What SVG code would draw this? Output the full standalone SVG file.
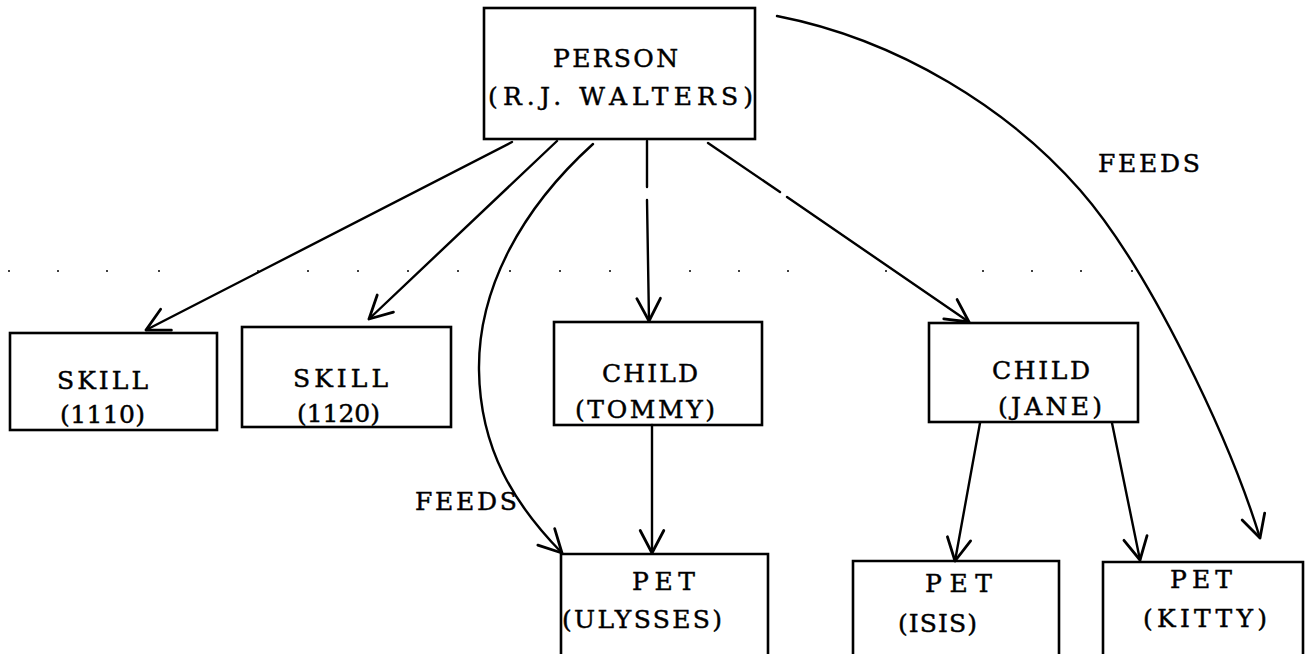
<svg xmlns="http://www.w3.org/2000/svg" width="1316" height="654" viewBox="0 0 1316 654">
  <defs>
    <style>
      .box { fill: none; stroke: #000; stroke-width: 2.6; }
      .lbl { font-family: "DejaVu Serif", "Liberation Serif", serif; font-size: 25px; fill: #000; stroke: #000; stroke-width: 0.45; }
      .edge { fill: none; stroke: #000; stroke-width: 2.4; stroke-linecap: round; }
      .arrow { marker-end: url(#vee); }
      .dot { fill: #000; }
    </style>
    <marker id="vee" markerUnits="userSpaceOnUse" markerWidth="30" markerHeight="30" viewBox="-24 -14 26 28" refX="0" refY="0" orient="auto">
      <path d="M-21,-11 L0,0 L-21,11" fill="none" stroke="#000" stroke-width="2.6" stroke-linecap="round" stroke-linejoin="round"/>
    </marker>
  </defs>
  <rect width="1316" height="654" fill="#fff"/>

  <!-- faint dotted guide row -->
  <g id="guide-dots">
    <circle class="dot" cx="9" cy="271" r="1"/>
    <circle class="dot" cx="58" cy="271" r="1"/>
    <circle class="dot" cx="107" cy="271" r="1"/>
    <circle class="dot" cx="159" cy="271" r="1"/>
    <circle class="dot" cx="258" cy="271" r="1"/>
    <circle class="dot" cx="308" cy="271" r="1"/>
    <circle class="dot" cx="358" cy="271" r="1"/>
    <circle class="dot" cx="408" cy="271" r="1"/>
    <circle class="dot" cx="458" cy="271" r="1"/>
    <circle class="dot" cx="510" cy="271" r="1"/>
    <circle class="dot" cx="560" cy="271" r="1"/>
    <circle class="dot" cx="610" cy="271" r="1"/>
    <circle class="dot" cx="690" cy="271" r="1"/>
    <circle class="dot" cx="739" cy="271" r="1"/>
    <circle class="dot" cx="788" cy="271" r="1"/>
    <circle class="dot" cx="886" cy="271" r="1"/>
    <circle class="dot" cx="983" cy="271" r="1"/>
    <circle class="dot" cx="1032" cy="271" r="1"/>
    <circle class="dot" cx="1081" cy="271" r="1"/>
    <circle class="dot" cx="1132" cy="271" r="1"/>
  </g>

  <!-- nodes -->
  <g id="person">
    <rect class="box" x="484" y="8" width="271" height="131"/>
    <text class="lbl" x="553" y="67" textLength="125" lengthAdjust="spacing">PERSON</text>
    <text class="lbl" x="488" y="105" textLength="265" lengthAdjust="spacing">(R.J. WALTERS)</text>
  </g>
  <g id="skill-1110">
    <rect class="box" x="10" y="333" width="207" height="97"/>
    <text class="lbl" x="57" y="389" textLength="91" lengthAdjust="spacing">SKILL</text>
    <text class="lbl" x="60" y="423" textLength="85" lengthAdjust="spacing">(1110)</text>
  </g>
  <g id="skill-1120">
    <rect class="box" x="242" y="327" width="209" height="100"/>
    <text class="lbl" x="293" y="387" textLength="95" lengthAdjust="spacing">SKILL</text>
    <text class="lbl" x="297" y="422" textLength="83" lengthAdjust="spacing">(1120)</text>
  </g>
  <g id="child-tommy">
    <rect class="box" x="554" y="322" width="208" height="103"/>
    <text class="lbl" x="602" y="382" textLength="96" lengthAdjust="spacing">CHILD</text>
    <text class="lbl" x="575" y="418" textLength="140" lengthAdjust="spacing">(TOMMY)</text>
  </g>
  <g id="child-jane">
    <rect class="box" x="929" y="323" width="209" height="99"/>
    <text class="lbl" x="992" y="379" textLength="98" lengthAdjust="spacing">CHILD</text>
    <text class="lbl" x="998" y="415" textLength="104" lengthAdjust="spacing">(JANE)</text>
  </g>
  <g id="pet-ulysses">
    <path class="box" d="M561,660 V554 H768 V660"/>
    <text class="lbl" x="632" y="590" textLength="63" lengthAdjust="spacing">PET</text>
    <text class="lbl" x="562" y="628" textLength="160" lengthAdjust="spacing">(ULYSSES)</text>
  </g>
  <g id="pet-isis">
    <path class="box" d="M853,660 V561 H1059 V660"/>
    <text class="lbl" x="925" y="592" textLength="67" lengthAdjust="spacing">PET</text>
    <text class="lbl" x="898" y="632" textLength="79" lengthAdjust="spacing">(ISIS)</text>
  </g>
  <g id="pet-kitty">
    <path class="box" d="M1103,660 V562 H1303 V660"/>
    <text class="lbl" x="1170" y="588" textLength="62" lengthAdjust="spacing">PET</text>
    <text class="lbl" x="1143" y="627" textLength="124" lengthAdjust="spacing">(KITTY)</text>
  </g>

  <!-- connectors -->
  <g id="connectors">
    <path class="edge arrow" d="M512,142 L146,330"/>
    <path class="edge arrow" d="M557,141 L369,319"/>
    <path class="edge arrow" d="M593,144 C520,210 478,290 479,370 C480,450 515,505 562,553"/>
    <path class="edge" d="M647,141 L647,187"/>
    <path class="edge arrow" d="M647,200 L649,321"/>
    <path class="edge" d="M708,143 L780,192"/>
    <path class="edge arrow" d="M787,197 L969,322"/>
    <path class="edge arrow" d="M777,16 C900,40 1010,110 1080,190 S1230,440 1260,538"/>
    <path class="edge arrow" d="M652,425 L652,553"/>
    <path class="edge arrow" d="M980,423 L955,561"/>
    <path class="edge arrow" d="M1112,423 L1140,560"/>
    <text class="lbl" x="415" y="510" textLength="102" lengthAdjust="spacing">FEEDS</text>
    <text class="lbl" x="1098" y="172" textLength="102" lengthAdjust="spacing">FEEDS</text>
  </g>
</svg>
